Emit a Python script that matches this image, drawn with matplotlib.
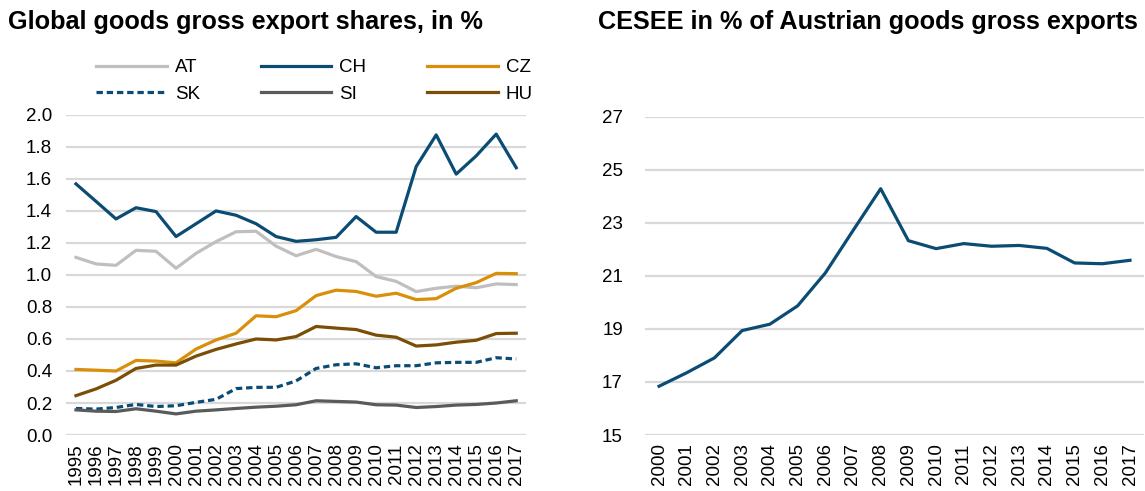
import matplotlib
matplotlib.use("Agg")
import matplotlib.pyplot as plt

plt.rcParams['font.family'] = ['Liberation Sans', 'DejaVu Sans']

years_left = [str(y) for y in range(1995, 2018)]
AT = [1.11, 1.069, 1.06, 1.154, 1.148, 1.042, 1.135, 1.208, 1.27, 1.273, 1.18, 1.12,
      1.16, 1.115, 1.083, 0.99, 0.96, 0.896, 0.917, 0.93, 0.92, 0.944, 0.94]
CH = [1.569, 1.46, 1.35, 1.42, 1.396, 1.24, 1.32, 1.40, 1.373, 1.32, 1.24, 1.21,
      1.22, 1.235, 1.365, 1.267, 1.267, 1.677, 1.875, 1.63, 1.744, 1.88, 1.67]
CZ = [0.41, 0.405, 0.40, 0.466, 0.462, 0.451, 0.537, 0.594, 0.636, 0.745, 0.739, 0.777,
      0.871, 0.905, 0.897, 0.867, 0.886, 0.846, 0.852, 0.917, 0.952, 1.01, 1.008]
SK = [0.166, 0.162, 0.172, 0.191, 0.178, 0.183, 0.204, 0.223, 0.29, 0.298, 0.298, 0.338,
      0.416, 0.439, 0.445, 0.42, 0.433, 0.433, 0.451, 0.454, 0.454, 0.483, 0.475]
SI = [0.157, 0.149, 0.147, 0.164, 0.149, 0.132, 0.149, 0.157, 0.166, 0.174, 0.18, 0.189,
      0.214, 0.21, 0.206, 0.189, 0.187, 0.172, 0.178, 0.187, 0.191, 0.20, 0.214]
HU = [0.246, 0.288, 0.342, 0.416, 0.437, 0.437, 0.493, 0.535, 0.569, 0.60, 0.594, 0.615,
      0.678, 0.668, 0.659, 0.624, 0.611, 0.556, 0.563, 0.58, 0.592, 0.634, 0.636]

years_right = [str(y) for y in range(2000, 2018)]
CESEE = [16.84, 17.35, 17.91, 18.94, 19.18, 19.87, 21.11, 22.71, 24.29, 22.33, 22.03,
         22.22, 22.12, 22.15, 22.04, 21.49, 21.46, 21.59]

left_ticks = [0.0, 0.2, 0.4, 0.6, 0.8, 1.0, 1.2, 1.4, 1.6, 1.8, 2.0]
right_ticks = [15, 17, 19, 21, 23, 25, 27]

C_AT = '#BFBFBF'
C_CH = '#0B4C74'
C_CZ = '#DA8F0A'
C_SI = '#5A5A5A'
C_HU = '#7A4E04'
GRID = '#D9D9D9'
LW = 2.3
FS = 13.5

fig = plt.figure(figsize=(11.45, 4.91), dpi=100)
ax1 = fig.add_axes([0.0576, 0.114, 0.402, 0.652])
ax2 = fig.add_axes([0.5635, 0.114, 0.4355, 0.648])


def style(ax, ticks, labels, fmt, pad):
    for s in ax.spines.values():
        s.set_visible(False)
    ax.set_yticks(ticks)
    ax.set_yticklabels([fmt(t) for t in ticks])
    ax.set_ylim(ticks[0], ticks[-1])
    ax.set_xticks(range(len(labels)))
    ax.set_xticklabels(labels, rotation=90)
    ax.set_xlim(-0.5, len(labels) - 0.5)
    ax.tick_params(axis='both', length=0, labelsize=FS, colors='black')
    ax.tick_params(axis='y', pad=pad)
    ax.tick_params(axis='x', pad=6)
    ax.grid(axis='y', color=GRID, linewidth=1.6)
    ax.set_axisbelow(True)


x1 = range(len(years_left))
ax1.plot(x1, AT, color=C_AT, lw=LW, label='AT')
ax1.plot(x1, CH, color=C_CH, lw=LW, label='CH')
ax1.plot(x1, CZ, color=C_CZ, lw=LW, label='CZ')
ax1.plot(x1, SK, color=C_CH, lw=LW, ls=(0, (2.0, 1.2)), label='SK')
ax1.plot(x1, SI, color=C_SI, lw=LW, label='SI')
ax1.plot(x1, HU, color=C_HU, lw=LW, label='HU')
style(ax1, left_ticks, years_left, lambda t: f"{t:.1f}", 10)

handles, labs = ax1.get_legend_handles_labels()
order = [0, 3, 1, 4, 2, 5]
ax1.legend([handles[i] for i in order], [labs[i] for i in order], ncol=3,
           loc='lower left', bbox_to_anchor=(0.05, 1.014), frameon=False,
           fontsize=FS, handlelength=3.75, handletextpad=0.43, columnspacing=3.25,
           labelspacing=0.5, borderaxespad=0)

x2 = range(len(years_right))
ax2.plot(x2, CESEE, color=C_CH, lw=LW)
style(ax2, right_ticks, years_right, lambda t: f"{t:d}", 16)

fig.text(0.007, 0.955, 'Global goods gross export shares, in %', fontsize=18.2,
         fontweight='bold', ha='left', va='center')
fig.text(0.522, 0.955, 'CESEE in % of Austrian goods gross exports', fontsize=18.2,
         fontweight='bold', ha='left', va='center')

fig.savefig('out.png', dpi=100)
